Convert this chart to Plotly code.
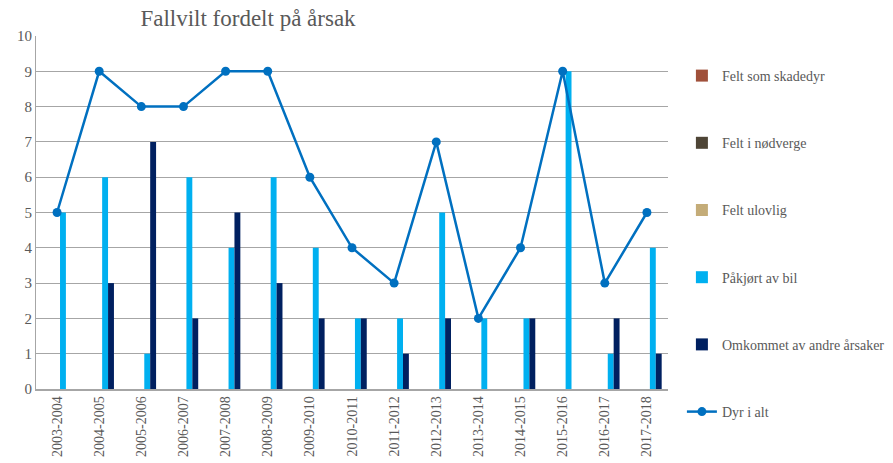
import plotly.graph_objects as go

categories = ["2003-2004", "2004-2005", "2005-2006", "2006-2007", "2007-2008",
              "2008-2009", "2009-2010", "2010-2011", "2011-2012", "2012-2013",
              "2013-2014", "2014-2015", "2015-2016", "2016-2017", "2017-2018"]
felt_skadedyr = [0] * 15
felt_nodverge = [0] * 15
felt_ulovlig = [0] * 15
pakjort_bil = [5, 6, 1, 6, 4, 6, 4, 2, 2, 5, 2, 2, 9, 1, 4]
omkommet_andre = [0, 3, 7, 2, 5, 3, 2, 2, 1, 2, 0, 2, 0, 2, 1]
dyr_i_alt = [5, 9, 8, 8, 9, 9, 6, 4, 3, 7, 2, 4, 9, 3, 5]

font_fam = "Liberation Serif, DejaVu Serif, serif"
txt_col = "#595959"

fig = go.Figure()
bar_series = [
    ("Felt som skadedyr", felt_skadedyr, "#A0503A"),
    ("Felt i nødverge", felt_nodverge, "#4E4536"),
    ("Felt ulovlig", felt_ulovlig, "#C4AC78"),
    ("Påkjørt av bil", pakjort_bil, "#00B0F0"),
    ("Omkommet av andre årsaker", omkommet_andre, "#002060"),
]
for i, (name, vals, col) in enumerate(bar_series):
    fig.add_trace(go.Bar(x=categories, y=vals, name=name, marker_color=col,
                         marker_line_width=0, legendgroup=f"g{i}"))
fig.add_trace(go.Scatter(x=categories, y=dyr_i_alt, name="Dyr i alt", mode="lines+markers",
                         line=dict(color="#0070C0", width=2.5),
                         marker=dict(size=9, color="#0070C0"), legendgroup="g5"))

fig.update_layout(
    width=893, height=463,
    margin=dict(l=36, r=225, t=36, b=74, autoexpand=False),
    paper_bgcolor="white", plot_bgcolor="white",
    barmode="group", bargap=0.3, bargroupgap=0,
    title=dict(text="Fallvilt fordelt på årsak", x=248/893, xanchor="center",
               y=1 - 18/463, yanchor="middle",
               font=dict(family=font_fam, size=23, color=txt_col)),
    font=dict(family=font_fam, color=txt_col, size=13),
    legend=dict(x=1.022, xanchor="left", y=(389 - 60) / 353, yanchor="top",
                traceorder="grouped", tracegroupgap=46, maxheight=460,
                font=dict(family=font_fam, size=14, color=txt_col),
                itemwidth=30, bgcolor="rgba(0,0,0,0)"),
    showlegend=True,
)
fig.update_yaxes(range=[0, 10], dtick=1, showgrid=True, gridcolor="#A6A6A6", gridwidth=1,
                 showline=True, linecolor="#A6A6A6", linewidth=1, zeroline=False,
                 automargin=False,
                 tickfont=dict(family=font_fam, size=15, color=txt_col), ticks="", ticklen=0)
fig.update_xaxes(range=[-0.5, len(categories) - 0.5],
                 showline=True, linecolor="#A6A6A6", linewidth=1.5, tickangle=-90,
                 automargin=False,
                 tickfont=dict(family=font_fam, size=14, color=txt_col), showgrid=False)

fig.write_html("out.html", config={"displayModeBar": False},
               post_script="document.body.style.margin='0';document.body.style.overflow='hidden';")
